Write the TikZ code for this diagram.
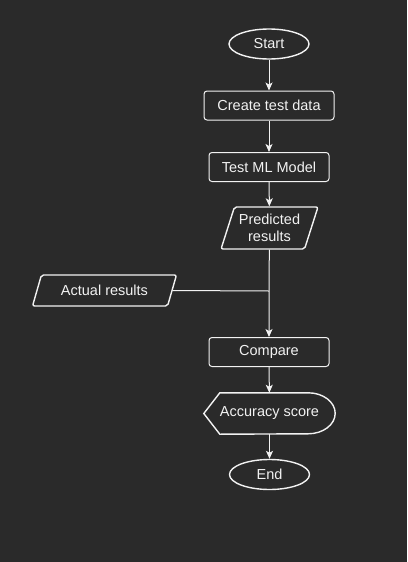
\documentclass[tikz,border=0pt]{standalone}
\usepackage{fontspec}
\setmainfont{Liberation Sans}
\usetikzlibrary{arrows.meta,positioning,shapes.geometric,calc}
\definecolor{bgdark}{HTML}{2A2A2A}
\definecolor{linew}{HTML}{F2F2F2}

\begin{document}
\begin{tikzpicture}[
  x=1pt, y=-1pt,
  font=\fontsize{14.5}{17}\selectfont,
  every node/.style={text=linew},
  term/.style={draw=linew, line width=1.4pt, ellipse, minimum width=80pt, minimum height=30pt, inner sep=0pt},
  proc/.style={draw=linew, line width=1pt, rectangle, rounded corners=3pt, minimum height=29pt, inner sep=1pt},
  iobox/.style={draw=linew, line width=1.4pt, trapezium, trapezium stretches=true, rounded corners=2pt, inner sep=0pt},
  disp/.style={minimum width=131pt, minimum height=41pt, inner sep=0pt},
  edge/.style={-{Stealth[length=8pt,width=7pt,inset=2pt]}, linew, line width=1pt},
  pedge/.style={-, linew, line width=1pt}
]
\useasboundingbox[fill=bgdark] (0,0) rectangle (407,562);
% --- nodes -----------------------------------------------------------------
\node[term] (start) at (269,44) {Start};
\node[proc, minimum width=130pt] (mkdata) at (269,105.5) {Create test data};
\node[proc, minimum width=120pt] (testml) at (269,167) {Test ML Model};
\node[iobox, minimum width=97pt, minimum height=42pt,
      trapezium left angle=67, trapezium right angle=113,
      align=center] (pred) at (269.5,228) {Predicted\\results};
\node[iobox, minimum width=145pt, minimum height=31pt,
      trapezium left angle=60, trapezium right angle=120] (actual) at (104.5,290.5) {Actual results};
\node[proc, minimum width=120pt] (cmp) at (269,352) {Compare};
\node[disp] (acc) at (269.5,413.5) {Accuracy score};
\node[term] (stop) at (269.5,474.5) {End};
\coordinate (join) at (269,291);

% display shape outline
\draw[linew, line width=1.4pt] (acc.west) -- ($(acc.north west)+(16,0)$)
  -- ($(acc.north east)+(-27,0)$) arc[start angle=-90, end angle=90, x radius=27, y radius=20.5]
  -- ($(acc.south west)+(16,0)$) -- cycle;

% --- edges -----------------------------------------------------------------
\draw[edge] (start) -- (mkdata);
\draw[edge] (mkdata) -- (testml);
\draw[edge] (testml) -- (pred);
\draw[edge] (pred) -- (join) -- (cmp);
\draw[pedge] (actual.east) -- (join);
\draw[edge] (cmp) -- (acc);
\draw[edge] (acc) -- (stop);
\end{tikzpicture}
\end{document}
